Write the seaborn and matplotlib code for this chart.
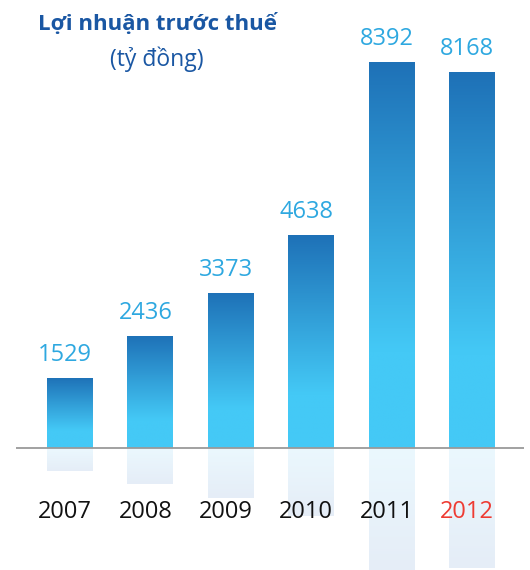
import numpy as np
import matplotlib
matplotlib.use("Agg")
import matplotlib.pyplot as plt
from matplotlib.colors import to_rgb
import seaborn as sns

# ---- data ----
years = ["2007", "2008", "2009", "2010", "2011", "2012"]
profit = [1529, 2436, 3373, 4638, 8392, 8168]
title_text = "Lợi nhuận trước thuế"
unit_text = "(tỷ đồng)"
highlight_year = "2012"

sns.set_theme(style="white")
plt.rcParams["font.family"] = ["Open Sans", "DejaVu Sans"]

DPI = 100
fig = plt.figure(figsize=(5.3, 5.7), dpi=DPI)
ax = fig.add_axes([0, 0, 1, 1])
ax.set_axis_off()

df = {"year": years, "profit": profit}
sns.barplot(x="year", y="profit", data=df, width=0.572, ax=ax,
            color="white", edgecolor="none", linewidth=0)

dark = np.array(to_rgb("#1E71B7"))
cyan = np.array(to_rgb("#44C9F6"))
ref_top = np.array(to_rgb("#EBF8FE"))
ref_bot = np.array(to_rgb("#E5EDF7"))

N = 256
t = np.linspace(0, 1, N)  # bottom -> top
frac = np.clip((t - 0.25) / 0.75, 0, 1)[:, None]
grad = (cyan * (1 - frac) + dark * frac)[:, None, :]
rt = np.linspace(0, 1, N)[:, None]  # bottom -> top of reflection
rgrad = (ref_bot * (1 - rt) + ref_top * rt)[:, None, :]

for p in ax.patches:
    x0 = p.get_x()
    w = p.get_width()
    h = p.get_height()
    p.set_facecolor("none")
    im = ax.imshow(grad, extent=(x0, x0 + w, 0, h), origin="lower",
                   aspect="auto", zorder=2, interpolation="bilinear")
    im.set_clip_path(p)
    ax.imshow(rgrad, extent=(x0, x0 + w, -0.32 * h, 0), origin="lower",
              aspect="auto", zorder=1, interpolation="bilinear")

# axis ranges (pixel mapping)
px_per_cat = 80.4
px_per_val = 0.046
W, H = 530, 570
x_left = -70 / px_per_cat
ax.set_xlim(x_left, x_left + W / px_per_cat)
y_base_px = 448
ax.set_ylim(-(H - y_base_px) / px_per_val, y_base_px / px_per_val)

# baseline
ax.plot([x_left + 16 / px_per_cat, x_left + 524 / px_per_cat], [0, 0],
        color="#9a9a9a", lw=1.3, zorder=3, solid_capstyle="butt")

# labels
pt = 72 / DPI
for i, (yr, v) in enumerate(zip(years, profit)):
    ax.annotate(f"{v}", xy=(i, v), xytext=(-5 * pt, 17 * pt),
                textcoords="offset points", ha="center", va="baseline",
                fontsize=17, color="#2EA8E0", zorder=4)
    ax.annotate(yr, xy=(i, 0), xytext=(-5 * pt, -69.5 * pt),
                textcoords="offset points", ha="center", va="baseline",
                fontsize=17, color="#EE3B33" if yr == highlight_year else "#111111",
                zorder=4)

fig.text(157 / W, 1 - 30 / H, title_text, ha="center", va="baseline",
         fontsize=16, fontweight="bold", color="#1A57A3")
fig.text(157 / W, 1 - 66 / H, unit_text, ha="center", va="baseline",
         fontsize=16.5, color="#1A57A3")

fig.savefig("out.png", dpi=DPI)
